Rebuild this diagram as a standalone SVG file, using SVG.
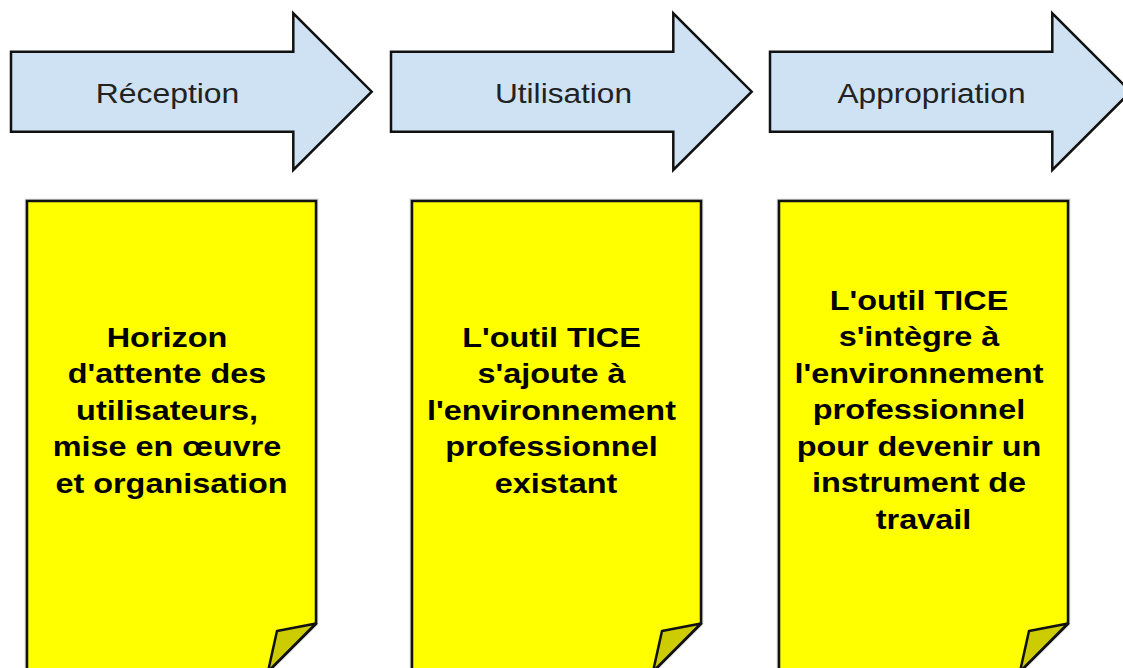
<svg xmlns="http://www.w3.org/2000/svg" width="1123" height="668" viewBox="0 0 1123 668">
  <style>
    .arrow { fill: #cfe2f3; stroke: #111; stroke-width: 2.5; stroke-linejoin: miter; }
    .note { fill: #ffff00; stroke: #111; stroke-width: 2.5; stroke-linejoin: miter; }
    .shadow { fill: none; stroke: #888; stroke-width: 4.5; opacity: 0.45; }
    .fold { fill: #cccc00; stroke: #111; stroke-width: 2.5; stroke-linejoin: round; }
    .lbl { font-family: "Liberation Sans", Arial, sans-serif; font-size: 27.5px; fill: #222; text-anchor: middle; }
    .txt { font-family: "Liberation Sans", Arial, sans-serif; font-size: 27px; font-weight: bold; fill: #000; text-anchor: middle; }
  </style>
  <defs>
    <path id="arrowShape" d="M0,40.7 L282.3,40.7 L282.3,2.3 L360.7,80.7 L282.3,159 L282.3,120.7 L0,120.7 Z"/>
    <path id="noteShape" d="M0,0 L289,0 L289,422.5 L241,470.5 L0,470.5 Z"/>
    <path id="foldShape" d="M289,422.5 L250,430 L241,470.5 Z"/>
  </defs>

  <g id="arrow-reception">
    <use href="#arrowShape" class="arrow" transform="translate(11,11)"/>
    <text class="lbl" transform="translate(167.5,0) scale(1.16,1)" x="0" y="103.3">Réception</text>
  </g>
  <g id="arrow-utilisation">
    <use href="#arrowShape" class="arrow" transform="translate(391,11)"/>
    <text class="lbl" transform="translate(563.5,0) scale(1.15,1)" x="0" y="103.3">Utilisation</text>
  </g>
  <g id="arrow-appropriation">
    <use href="#arrowShape" class="arrow" transform="translate(770,11)"/>
    <text class="lbl" transform="translate(931.5,0) scale(1.15,1)" x="0" y="103.3">Appropriation</text>
  </g>

  <g id="note-reception">
    <use href="#noteShape" class="shadow" transform="translate(27,201)"/>
    <use href="#noteShape" class="note" transform="translate(27,201)"/>
    <use href="#foldShape" class="fold" transform="translate(27,201)"/>
    <text class="txt" transform="translate(171.5,0) scale(1.2,1)">
      <tspan x="0" y="347">Horizon</tspan>
      <tspan x="0" y="383.5">d'attente des</tspan>
      <tspan x="0" y="420">utilisateurs,</tspan>
      <tspan x="0" y="456.5">mise en œuvre</tspan>
      <tspan x="0" y="493">et organisation</tspan>
    </text>
  </g>

  <g id="note-utilisation">
    <use href="#noteShape" class="shadow" transform="translate(412,201)"/>
    <use href="#noteShape" class="note" transform="translate(412,201)"/>
    <use href="#foldShape" class="fold" transform="translate(412,201)"/>
    <text class="txt" transform="translate(556,0) scale(1.2,1)">
      <tspan x="0" y="347">L'outil TICE</tspan>
      <tspan x="0" y="383.5">s'ajoute à</tspan>
      <tspan x="0" y="420">l'environnement</tspan>
      <tspan x="0" y="456.5">professionnel</tspan>
      <tspan x="0" y="493">existant</tspan>
    </text>
  </g>

  <g id="note-appropriation">
    <use href="#noteShape" class="shadow" transform="translate(779,201)"/>
    <use href="#noteShape" class="note" transform="translate(779,201)"/>
    <use href="#foldShape" class="fold" transform="translate(779,201)"/>
    <text class="txt" transform="translate(923.5,0) scale(1.2,1)">
      <tspan x="0" y="310">L'outil TICE</tspan>
      <tspan x="0" y="346.5">s'intègre à</tspan>
      <tspan x="0" y="383">l'environnement</tspan>
      <tspan x="0" y="419.5">professionnel</tspan>
      <tspan x="0" y="456">pour devenir un</tspan>
      <tspan x="0" y="492.5">instrument de</tspan>
      <tspan x="0" y="529">travail</tspan>
    </text>
  </g>

  <g id="connectors"></g>
</svg>
